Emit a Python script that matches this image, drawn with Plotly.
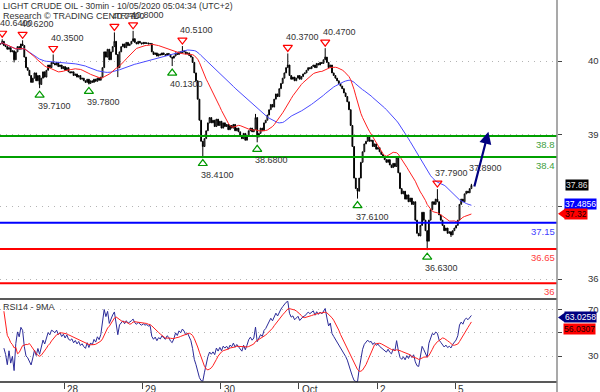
import plotly.graph_objects as go
import pandas as pd

# ---------------- data ----------------
title_text = "LIGHT CRUDE OIL - 30min - 10/05/2020 05:04:34 (UTC+2)"
source_text = "Research \u00a9 TRADING CENTRAL"
rsi_title = "RSI14 - 9MA"

# 30-minute closes, one per bar (bar 0 = first bar at the left edge)
closes = [
    40.55, 40.60, 40.52, 40.50, 40.45, 40.48, 40.40, 40.42, 40.25, 40.40,
    40.50, 40.45, 40.55, 40.52, 40.30, 40.10, 40.05, 39.95, 39.82, 39.90,
    40.00, 39.85, 39.95, 39.78, 39.90, 40.02, 39.92, 40.05, 40.15, 40.10,
    40.20, 40.18, 40.15, 40.20, 40.12, 40.15, 40.08, 40.12, 40.05, 40.10,
    40.02, 40.00, 40.02, 39.95, 39.98, 39.92, 39.95, 39.88, 39.90, 39.85,
    39.82, 39.88, 39.80, 39.85, 39.82, 39.88, 39.84, 39.90, 39.86, 39.92,
    40.10, 40.40, 40.30, 40.45, 40.25, 40.40, 40.50, 40.60, 40.35, 40.10,
    40.40, 40.50, 40.55, 40.48, 40.58, 40.52, 40.55, 40.60, 40.65, 40.58,
    40.55, 40.60, 40.57, 40.55, 40.58, 40.56, 40.57, 40.55, 40.56, 40.40,
    40.35, 40.38, 40.32, 40.36, 40.34, 40.38, 40.35, 40.33, 40.37, 40.35,
    40.30, 40.28, 40.32, 40.38, 40.35, 40.40, 40.38, 40.42, 40.40, 40.36,
    40.38, 40.33, 40.30, 40.20, 40.00, 39.85, 39.50, 39.10, 38.70, 38.60,
    38.75, 38.90, 39.05, 39.15, 39.05, 39.10, 38.98, 39.12, 39.00, 39.08,
    38.95, 39.05, 38.98, 39.02, 38.92, 39.00, 38.95, 39.02, 38.90, 38.95,
    38.88, 38.80, 38.75, 38.85, 38.72, 38.80, 38.90, 38.95, 38.88, 38.92,
    39.15, 38.78, 38.85, 38.95, 38.90, 39.05, 39.10, 39.20, 39.30, 39.40,
    39.35, 39.50, 39.60, 39.55, 39.70, 39.80, 39.90, 40.00, 40.10, 40.15,
    39.95, 39.88, 39.92, 39.85, 39.90, 39.95, 39.88, 39.93, 39.98, 40.00,
    40.05, 40.10, 40.08, 40.12, 40.15, 40.10, 40.18, 40.15, 40.20, 40.18,
    40.25, 40.30, 40.20, 40.10, 40.15, 40.00, 39.95, 39.90, 39.85, 39.80,
    39.75, 39.70, 39.62, 39.55, 39.45, 39.30, 39.00, 38.60, 38.00, 37.80,
    37.75, 38.00, 38.30, 38.50, 38.65, 38.70, 38.78, 38.70, 38.72, 38.60,
    38.65, 38.55, 38.58, 38.50, 38.45, 38.40, 38.35, 38.30, 38.35, 38.25,
    38.20, 38.28, 38.22, 38.40, 38.10, 37.80, 37.70, 37.75, 37.60, 37.68,
    37.55, 37.62, 37.50, 37.55, 37.20, 36.95, 36.90, 37.10, 37.35, 37.20,
    37.00, 36.80, 37.20, 37.40, 37.55, 37.50, 37.60, 37.55, 37.30, 37.20,
    37.10, 37.00, 37.05, 36.95, 36.98, 36.92, 37.00, 37.05, 37.10, 37.20,
    37.50, 37.60, 37.55, 37.70, 37.75, 37.72, 37.80, 37.86,
]

# annotated swing highs / lows (bar index, price)
swing_high_bars = [1, 13, 31, 67, 78, 107, 169, 191, 257]
swing_high_vals = [40.64, 40.62, 40.35, 40.77, 40.80, 40.51, 40.37, 40.47, 37.79]
swing_low_bars = [23, 52, 101, 119, 151, 210, 251]
swing_low_vals = [39.71, 39.78, 40.13, 38.41, 38.68, 37.61, 36.63]
# last-bar high, labelled but its marker hidden by the arrow
last_high_bar = [277]
last_high_val = [37.89]
# other wick extremes
wick_high_bars = [150]
wick_high_vals = [39.22]
wick_low_bars = [8, 69, 265]
wick_low_vals = [40.20, 39.92, 36.88]

# support / resistance levels
level_vals = [38.8, 38.4, 37.15, 36.65, 36.0]
level_text = ["38.8", "38.4", "37.15", "36.65", "36"]

# target arrow
target_bar = 287
target_price = 38.88

# right-hand value tags
last_price = 37.86
ma_blue_last = 37.4856
ma_red_last = 37.32
rsi_last = 63.0258
rsi_ma_last = 56.0307

# axis ticks
price_tick_vals = [40.226, 38.832, 37.469, 36.081]
price_tick_text = ["40", "39", "", "36"]
rsi_tick_vals = [70, 50, 30]
rsi_tick_text = ["70", "", "30"]
day_labels = ["28", "29", "30", "Oct", "2", "5"]
day_start_bars = [38, 84, 130, 176, 222, 268]

# ---------------- derived series ----------------
n = len(closes)
bars = list(range(n))
opens = [closes[0]] + closes[:-1]
highs = [max(o, c) for o, c in zip(opens, closes)]
lows = [min(o, c) for o, c in zip(opens, closes)]
for b, v in zip(swing_high_bars + last_high_bar + wick_high_bars,
                swing_high_vals + last_high_val + wick_high_vals):
    highs[b] = v
for b, v in zip(swing_low_bars + wick_low_bars, swing_low_vals + wick_low_vals):
    lows[b] = v

s = pd.Series(closes)
ma_red = s.rolling(20, min_periods=1).mean()
ma_blue = s.rolling(50, min_periods=1).mean()
delta = s.diff().fillna(0)
gain = delta.clip(lower=0)
loss = -delta.clip(upper=0)
ag = gain.ewm(alpha=1 / 14, adjust=True).mean()
al = loss.ewm(alpha=1 / 14, adjust=True).mean()
rsi = 100 - 100 / (1 + ag / al)
rsi_ma = rsi.rolling(9, min_periods=1).mean()

# ---------------- geometry ----------------
W, H = 600, 392
PLOT_W = 557
M_B = 10
PLOT_H = H - M_B
SPLIT = 1 - 299 / PLOT_H
px_per_bar = 1.7
x_range = [-0.5 / px_per_bar, (PLOT_W - 0.5) / px_per_bar]
y_range = [35.701, 41.386]
PPU = 299 / (y_range[1] - y_range[0])
rsi_range = [7.73, 78.82]
RPU = (PLOT_H - 299) / (rsi_range[1] - rsi_range[0])

FONT = "Liberation Sans, Arial, sans-serif"
TXT = "#333333"

fig = go.Figure()

fig.add_trace(go.Candlestick(
    x=bars, open=opens, high=highs, low=lows, close=closes,
    increasing=dict(line=dict(color="black", width=1), fillcolor="white"),
    decreasing=dict(line=dict(color="black", width=1), fillcolor="black"),
    whiskerwidth=0, xaxis="x", yaxis="y", showlegend=False, hoverinfo="skip"))

fig.add_trace(go.Scatter(x=bars, y=ma_blue, mode="lines",
                         line=dict(color="#4a4aff", width=1), xaxis="x", yaxis="y",
                         showlegend=False, hoverinfo="skip"))
fig.add_trace(go.Scatter(x=bars, y=ma_red, mode="lines",
                         line=dict(color="#ff2020", width=1), xaxis="x", yaxis="y",
                         showlegend=False, hoverinfo="skip"))

# swing markers
fig.add_trace(go.Scatter(
    x=swing_high_bars, y=[v + 6 / PPU for v in swing_high_vals], mode="markers",
    marker=dict(symbol="triangle-down-open", size=8, color="#ff0000",
                line=dict(width=1.2, color="#ff0000")),
    xaxis="x", yaxis="y", showlegend=False, hoverinfo="skip"))
fig.add_trace(go.Scatter(
    x=swing_low_bars, y=[v - 7 / PPU for v in swing_low_vals], mode="markers",
    marker=dict(symbol="triangle-up-open", size=8, color="#009900",
                line=dict(width=1.2, color="#009900")),
    xaxis="x", yaxis="y", showlegend=False, hoverinfo="skip"))

# RSI
fig.add_trace(go.Scatter(x=bars[2:], y=rsi[2:], mode="lines",
                         line=dict(color="#2b2b99", width=1), xaxis="x2", yaxis="y2",
                         showlegend=False, hoverinfo="skip"))
fig.add_trace(go.Scatter(x=bars[2:], y=rsi_ma[2:], mode="lines",
                         line=dict(color="#ff2020", width=1), xaxis="x2", yaxis="y2",
                         showlegend=False, hoverinfo="skip"))

shapes = []
ann = []

level_colors = ["#00a000", "#00a000", "#0000ff", "#ff0000", "#ff0000"]
label_colors = ["#40a040", "#40a040", "#4040ff", "#ff4040", "#ff4040"]
for v, t, lc, tc in zip(level_vals, level_text, level_colors, label_colors):
    shapes.append(dict(type="line", xref="paper", yref="y", x0=0, x1=1, y0=v, y1=v,
                       line=dict(color=lc, width=2), layer="above"))
    ann.append(dict(xref="paper", yref="y", x=1, y=v, text=t, showarrow=False,
                    xanchor="right", yanchor="top", xshift=0, yshift=-1,
                    font=dict(family=FONT, size=9.5, color=tc)))

# swing labels
for b, v in zip(swing_high_bars + last_high_bar, swing_high_vals + last_high_val):
    ann.append(dict(xref="x", yref="y", x=b, y=v, text=f"{v:.4f}", showarrow=False,
                    xanchor="left", yanchor="middle", xshift=-4, yshift=16,
                    font=dict(family=FONT, size=9, color=TXT)))
for b, v in zip(swing_low_bars, swing_low_vals):
    ann.append(dict(xref="x", yref="y", x=b, y=v, text=f"{v:.4f}", showarrow=False,
                    xanchor="left", yanchor="middle", xshift=-4, yshift=-18,
                    font=dict(family=FONT, size=9, color=TXT)))

# target arrow
ann.append(dict(xref="x", yref="y", axref="x", ayref="y", x=target_bar, y=target_price,
                ax=n + 0.5, ay=closes[-1] - 0.05, text="", showarrow=True,
                arrowhead=2, arrowsize=1.1, arrowwidth=2.2, arrowcolor="#000080",
                standoff=0, startstandoff=0))

# panel frame lines
shapes.append(dict(type="line", xref="paper", yref="paper", x0=0, x1=1, y0=SPLIT, y1=SPLIT,
                   line=dict(color="#222222", width=1.5), layer="above"))
shapes.append(dict(type="line", xref="paper", yref="paper", x0=0, x1=1, y0=0, y1=0,
                   line=dict(color="#222222", width=1.5), layer="above"))
shapes.append(dict(type="line", xref="paper", yref="paper", x0=1, x1=1, y0=-M_B / PLOT_H, y1=1,
                   line=dict(color="#8c8c8c", width=1.5), layer="above"))

# right value tags
px = 1.0 / PLOT_W
def tag(yref, val, text, bg, fg, x_px, yshift=0):
    ann.append(dict(xref="paper", yref=yref, x=1 + x_px * px, y=val, text=text,
                    showarrow=False, xanchor="left", yanchor="middle", yshift=yshift,
                    bgcolor=bg, borderpad=0, height=10,
                    font=dict(family=FONT, size=8.6, color=fg)))

def pointer(yref, val, color, half):
    shapes.append(dict(type="path", xref="paper", yref=yref,
                       path=f"M {1 + 1 * px},{val} L {1 + 8 * px},{val + half} "
                            f"L {1 + 8 * px},{val - half} Z",
                       fillcolor=color, line=dict(width=0), layer="above"))

tag("y", last_price, f"{last_price:.2f}", "#000000", "#e0e0e0", 8)
tag("y", ma_blue_last, f"{ma_blue_last:.4f}", "#0000ff", "#ffffff", 7, yshift=1.5)
pointer("y", ma_red_last, "#ff0000", 5 / PPU)
tag("y", ma_red_last, f"{ma_red_last:.2f}", "#ff0000", "#200000", 7)
pointer("y2", rsi_last, "#000080", 5 / RPU)
tag("y2", rsi_last, f"{rsi_last:.4f}", "#000080", "#ffffff", 7)
tag("y2", rsi_ma_last, f"{rsi_ma_last:.4f}", "#ff0000", "#200000", 6, yshift=-3)

# titles
ann.append(dict(xref="paper", yref="paper", x=0, y=1, text=title_text, showarrow=False,
                xanchor="left", yanchor="top", xshift=1, yshift=1,
                font=dict(family=FONT, size=8.7, color=TXT)))
ann.append(dict(xref="paper", yref="paper", x=0, y=1, text=source_text, showarrow=False,
                xanchor="left", yanchor="top", xshift=1, yshift=-9,
                font=dict(family=FONT, size=9, color=TXT)))
ann.append(dict(xref="paper", yref="paper", x=0, y=SPLIT, text=rsi_title, showarrow=False,
                xanchor="left", yanchor="top", xshift=1, yshift=-1,
                font=dict(family=FONT, size=9, color=TXT)))

# day labels
for b, t in zip(day_start_bars, day_labels):
    ann.append(dict(xref="x2", yref="paper", x=b - 0.5, y=0, text=t, showarrow=False,
                    xanchor="left", yanchor="top", xshift=1, yshift=0,
                    font=dict(family=FONT, size=10, color=TXT)))

grid = dict(showgrid=True, gridcolor="#b4b4b4", gridwidth=1, griddash="1px,5px")

fig.update_layout(
    width=W, height=H, margin=dict(l=0, r=W - PLOT_W, t=0, b=M_B),
    paper_bgcolor="white", plot_bgcolor="white",
    showlegend=False, hovermode=False,
    xaxis=dict(domain=[0, 1], anchor="y", range=x_range, showticklabels=False,
               showgrid=False, zeroline=False, rangeslider=dict(visible=False)),
    xaxis2=dict(domain=[0, 1], anchor="y2", range=x_range, matches="x",
                tickvals=[b - 0.5 for b in day_start_bars], ticks="outside", ticklen=6,
                tickcolor="#444444", showticklabels=False, showgrid=False, zeroline=False),
    yaxis=dict(domain=[SPLIT, 1], anchor="x", side="right", range=y_range,
               tickvals=price_tick_vals, ticktext=price_tick_text, ticks="outside",
               ticklen=4, tickcolor="#444444", ticklabelstandoff=24,
               tickfont=dict(family=FONT, size=9.5, color=TXT), zeroline=False, **grid),
    yaxis2=dict(domain=[0, SPLIT], anchor="x2", side="right", range=rsi_range,
                tickvals=rsi_tick_vals, ticktext=rsi_tick_text, ticks="outside",
                ticklen=4, tickcolor="#444444", ticklabelstandoff=24,
                tickfont=dict(family=FONT, size=9.5, color=TXT), zeroline=False, **grid),
    shapes=shapes, annotations=ann,
)

fig.write_html("out.html")
